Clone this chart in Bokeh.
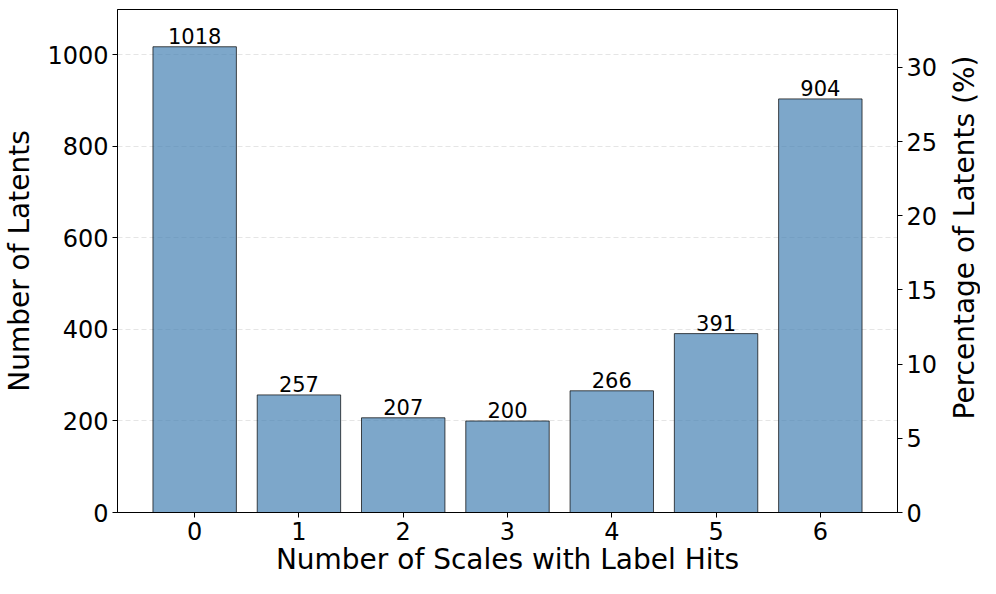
import math
from bokeh.plotting import figure
from bokeh.layouts import row
from bokeh.models import ColumnDataSource, Range1d, LinearAxis, FixedTicker
from bokeh.core.properties import value
from bokeh.embed import file_html
from bokeh.resources import INLINE

scales = [0, 1, 2, 3, 4, 5, 6]
counts = [1018, 257, 207, 200, 266, 391, 904]
left_ticks = [0, 200, 400, 600, 800, 1000]
right_ticks = [0, 5, 10, 15, 20, 25, 30]
right_title = "Percentage of Latents (%)"

total = sum(counts)
ymax = max(counts) * 1.08
labels = [str(c) for c in counts]

src = ColumnDataSource(dict(x=scales, top=counts, label=labels))

FONT = "DejaVu Sans"
XMIN, XMAX = -0.74, 6.74
H = 578
p = figure(width=940, height=H, output_backend="svg", toolbar_location=None,
           x_range=Range1d(XMIN, XMAX), y_range=Range1d(0, ymax),
           min_border_left=116, min_border_right=38, min_border_top=9, min_border_bottom=63)
p.extra_y_ranges = {"pct": Range1d(0, ymax / total * 100)}

p.vbar(x="x", top="top", width=0.8, source=src, fill_color="#4682B4", fill_alpha=0.7,
       line_color="black", line_alpha=0.7, line_width=1)
p.text(x="x", y="top", text="label", source=src, text_align="center", text_baseline="bottom",
       y_offset=-3, text_font=value(FONT), text_font_size="21px", text_color="black")

p.outline_line_color = "black"
p.outline_line_width = 1
p.xgrid.visible = False
p.ygrid.grid_line_color = "#cccccc"
p.ygrid.grid_line_alpha = 0.5
p.ygrid.grid_line_dash = "5 3"
p.ygrid.ticker = FixedTicker(ticks=left_ticks)

p.xaxis.ticker = FixedTicker(ticks=scales)
p.yaxis.ticker = FixedTicker(ticks=left_ticks)
p.xaxis.axis_label = "Number of Scales with Label Hits"
p.yaxis.axis_label = "Number of Latents"

ax_r = LinearAxis(y_range_name="pct", ticker=FixedTicker(ticks=right_ticks))
p.add_layout(ax_r, "right")

for ax in [p.xaxis[0], p.yaxis[0], ax_r]:
    ax.axis_line_color = "black"
    ax.axis_line_width = 1
    ax.major_tick_line_color = "black"
    ax.major_tick_out = 5
    ax.major_tick_in = 0
    ax.minor_tick_line_color = None
    ax.major_label_text_font = FONT
    ax.major_label_text_font_size = "24px"
    ax.major_label_text_color = "black"
    ax.axis_label_text_font = FONT
    ax.axis_label_text_font_size = "28px"
    ax.axis_label_text_font_style = "normal"
    ax.axis_label_text_color = "black"
    ax.major_label_standoff = 4
    ax.axis_label_standoff = 4

p.xaxis[0].axis_label_standoff = 0
p.yaxis[0].axis_label_standoff = 8

# narrow side panel carrying the right-hand axis title, reading bottom-to-top
p2 = figure(width=40, height=H, output_backend="svg", toolbar_location=None,
            x_range=Range1d(0, 1), y_range=Range1d(0, 1),
            x_axis_type=None, y_axis_type=None, min_border=0,
            min_border_left=0, min_border_right=0, min_border_top=0, min_border_bottom=0)
p2.outline_line_color = None
title_src = ColumnDataSource(dict(x=[0.6], y=[1 - (9 + (H - 9 - 63) / 2) / H], t=[right_title]))
p2.text(x="x", y="y", text="t", source=title_src, angle=math.pi / 2, text_align="center",
        text_baseline="middle", text_font=value(FONT), text_font_size="28px", text_color="black")

layout = row(p, p2, spacing=0)
open("out.html", "w").write(file_html(layout, INLINE))
